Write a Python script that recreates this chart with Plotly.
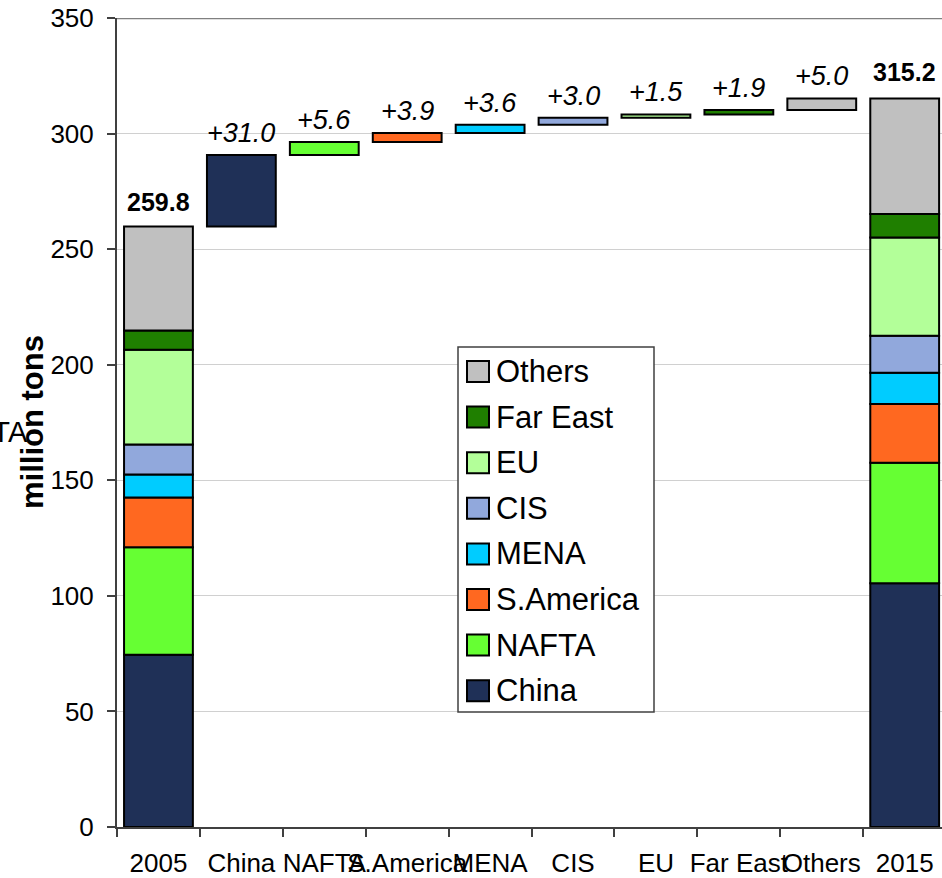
import plotly.graph_objects as go

# ---- data -------------------------------------------------------------
categories = ["2005", "China", "NAFTA", "S.America", "MENA", "CIS",
              "EU", "Far East", "Others", "2015"]
regions = ["China", "NAFTA", "S.America", "MENA", "CIS", "EU", "Far East", "Others"]
values_2005 = [74.5, 46.5, 21.5, 10.0, 13.0, 41.0, 8.3, 45.0]
values_2015 = [105.46, 52.12, 25.38, 13.58, 15.97, 42.48, 10.17, 50.04]
y_ticks = [0, 50, 100, 150, 200, 250, 300, 350]

colors = ["#1F3057", "#66FF33", "#FF6820", "#00CCFF",
          "#91A8DC", "#B3FF99", "#1F7F00", "#C0C0C0"]

FONT = "Arial, Liberation Sans, sans-serif"

# ---- layout geometry (pixels) ----------------------------------------
W, H = 942, 878
ML, MR, MT, MB = 117, 0, 18, 51
PW, PH = W - ML - MR, H - MT - MB


def px_x(p):
    return (p - ML) / PW


def px_y(p):
    return (H - MB - p) / PH


# ---- waterfall bookkeeping -------------------------------------------
total_2005 = sum(values_2005)
total_2015 = sum(values_2015)
deltas = [b - a for a, b in zip(values_2005, values_2015)]

fig = go.Figure()

cum05 = 0.0
cum15 = 0.0
running = total_2005
step_tops = []
for name, v05, v15, d, c in zip(regions, values_2005, values_2015, deltas, colors):
    fig.add_trace(go.Bar(
        x=["2005", name, "2015"],
        y=[v05, d, v15],
        base=[cum05, running, cum15],
        width=0.83,
        marker=dict(color=c, line=dict(color="black", width=2)),
        name=name,
        showlegend=False,
        hoverinfo="skip",
    ))
    cum05 += v05
    cum15 += v15
    running += d
    step_tops.append(running)

# ---- value labels (category positions given by index) -----------------
annotations = []
annotations.append(dict(x=categories.index("2005"), y=total_2005, xref="x", yref="y",
                        text=f"<b>{total_2005:.1f}</b>", showarrow=False,
                        yanchor="middle", yshift=24,
                        font=dict(family=FONT, size=25, color="black")))
annotations.append(dict(x=categories.index("2015"), y=total_2015, xref="x", yref="y",
                        text=f"<b>{total_2015:.1f}</b>", showarrow=False,
                        yanchor="middle", yshift=26,
                        font=dict(family=FONT, size=25, color="black")))
for name, d, top in zip(regions, deltas, step_tops):
    annotations.append(dict(x=categories.index(name), y=top, xref="x", yref="y",
                            text=f"<i>+{d:.1f}</i>", showarrow=False,
                            yanchor="middle", yshift=22,
                            font=dict(family=FONT, size=27, color="black")))

# ---- axis title and side text ----------------------------------------
annotations.append(dict(xref="paper", yref="paper", x=px_x(30), y=px_y(432),
                        xanchor="right", yanchor="middle", text="PTA",
                        showarrow=False,
                        font=dict(family=FONT, size=29, color="black")))
annotations.append(dict(xref="paper", yref="paper", x=px_x(32), y=px_y(422),
                        xanchor="center", yanchor="middle", textangle=-90,
                        text="<b>million tons</b>", showarrow=False,
                        font=dict(family=FONT, size=31, color="black")))

# ---- legend (drawn as boxed swatches, reversed order) -----------------
shapes = []
shapes.append(dict(type="rect", xref="paper", yref="paper",
                   x0=px_x(458), x1=px_x(654), y0=px_y(712), y1=px_y(347),
                   line=dict(color="#404040", width=1.5), fillcolor="white",
                   layer="above"))
pitch = 45.6
for i, (name, c) in enumerate(zip(regions[::-1], colors[::-1])):
    top = 361 + i * pitch
    shapes.append(dict(type="rect", xref="paper", yref="paper",
                       x0=px_x(467), x1=px_x(489), y0=px_y(top + 21), y1=px_y(top),
                       line=dict(color="black", width=2), fillcolor=c,
                       layer="above"))
    annotations.append(dict(xref="paper", yref="paper", x=px_x(494),
                            y=px_y(top + 10.5), xanchor="left", yanchor="middle",
                            text=name, showarrow=False,
                            font=dict(family=FONT, size=31, color="black")))

# top border line of the plot area
shapes.append(dict(type="line", xref="paper", yref="y", x0=0, x1=1, y0=350, y1=350,
                   line=dict(color="#808080", width=2.5), layer="above"))

fig.update_layout(
    width=W, height=H,
    margin=dict(l=ML, r=MR, t=MT, b=MB, pad=0),
    paper_bgcolor="white", plot_bgcolor="white",
    barmode="overlay",
    showlegend=False,
    font=dict(family=FONT, size=26, color="black"),
    annotations=annotations,
    shapes=shapes,
    xaxis=dict(
        type="category", categoryorder="array", categoryarray=categories,
        range=[-0.5, 9.45], tickangle=0,
        showline=True, linecolor="#404040", linewidth=2,
        ticks="outside", tickson="boundaries", ticklen=8, tickcolor="#404040",
        tickwidth=1.5, showgrid=False,
        tickfont=dict(family=FONT, size=26, color="black"),
        ticklabelstandoff=12,
    ),
    yaxis=dict(
        range=[0, 350], tickvals=y_ticks,
        showline=True, linecolor="#404040", linewidth=2,
        ticks="outside", ticklen=8, tickcolor="#404040", tickwidth=1.5,
        showgrid=True, gridcolor="#d0d0d0", gridwidth=1, zeroline=False,
        tickfont=dict(family=FONT, size=26, color="black"),
        ticklabelstandoff=8,
    ),
)

fig.write_html("out.html")
